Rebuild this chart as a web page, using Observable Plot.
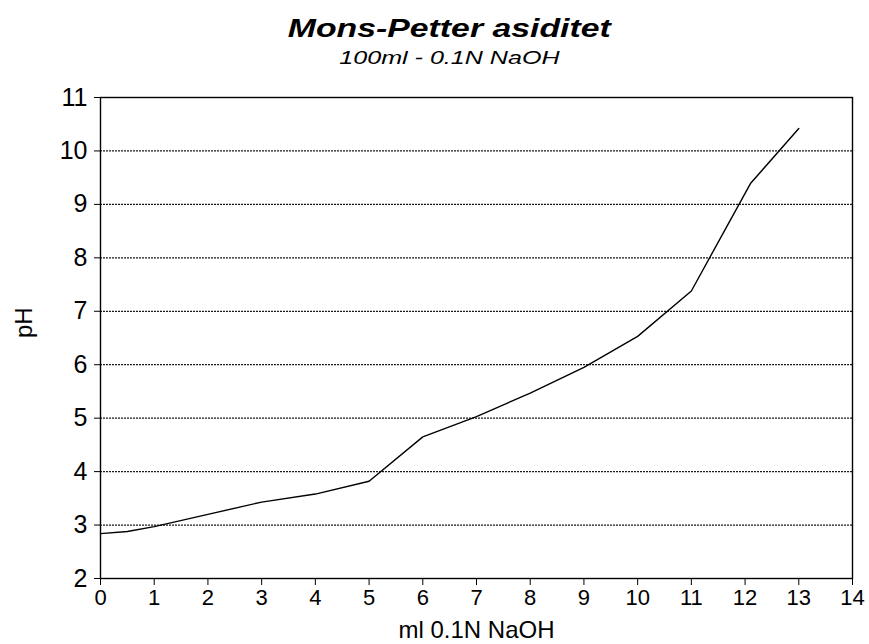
<!DOCTYPE html>
<html>
<head>
<meta charset="utf-8">
<script src="https://cdn.jsdelivr.net/npm/d3@7"></script>
<script src="https://cdn.jsdelivr.net/npm/@observablehq/plot@0.6"></script>
<style>
  html, body { margin: 0; padding: 0; background: #fff; }
  #wrap { width: 869px; height: 644px; position: relative; font-family: "Liberation Sans", Arial, sans-serif; overflow: hidden; }
  .t { position: absolute; width: 910px; text-align: center; color: #000; }
  .t span { display: inline-block; }
  #title { top: 13px; left: -6px; font-size: 26px; font-weight: bold; font-style: italic; }
  #title span { transform: scaleX(1.3); }
  #subtitle { top: 47px; left: -6px; font-size: 19px; font-style: italic; }
  #subtitle span { transform: scaleX(1.32); }
  #chart { position: absolute; top: 75px; left: 0; }
</style>
</head>
<body>
<div id="wrap">
  <div id="title" class="t"><span>Mons-Petter asiditet</span></div>
  <div id="subtitle" class="t"><span>100ml - 0.1N NaOH</span></div>
  <div id="chart"></div>
</div>
<script>
const mlNaOH = [0, 0.5, 1, 2, 3, 4, 5, 6, 7, 8, 9, 10, 11, 12.1, 13];
const pH     = [2.84, 2.88, 2.97, 3.2, 3.43, 3.58, 3.82, 4.65, 5.03, 5.47, 5.95, 6.53, 7.38, 9.39, 10.42];
const xTicks = [0,1,2,3,4,5,6,7,8,9,10,11,12,13,14];
const yTicks = [2,3,4,5,6,7,8,9,10,11];
const xLabel = "ml 0.1N NaOH";
const yLabel = "pH";

const data = mlNaOH.map((x, i) => ({x, y: pH[i]}));

const chart = Plot.plot({
  width: 869,
  height: 569,
  marginTop: 22,
  marginBottom: 66,
  marginLeft: 100,
  marginRight: 17,
  style: { fontFamily: "'Liberation Sans', Arial, sans-serif", color: "#000", background: "#fff", overflow: "visible" },
  x: { domain: [0, 14] },
  y: { domain: [2, 11] },
  marks: [
    Plot.gridY(yTicks.filter(d => d > 2 && d < 11), { stroke: "#000", strokeOpacity: 0.9, strokeWidth: 1.3, strokeDasharray: "2,1" }),
    Plot.frame({ stroke: "#000", strokeWidth: 1.4 }),
    Plot.axisX(xTicks, { tickSize: 7, tickPadding: 4, fontSize: 22, tickFormat: "d", label: null }),
    Plot.axisY(yTicks, { tickSize: 6, tickPadding: 7, fontSize: 25, tickFormat: "d", label: null }),
    Plot.text([xLabel], { frameAnchor: "bottom", dy: 59, fontSize: 24, text: d => d }),
    Plot.text([yLabel], { frameAnchor: "left", dx: -76, rotate: -90, fontSize: 24, text: d => d }),
    Plot.line(data, { x: "x", y: "y", stroke: "#000", strokeWidth: 1.4 })
  ]
});
document.getElementById("chart").appendChild(chart);
</script>
</body>
</html>
